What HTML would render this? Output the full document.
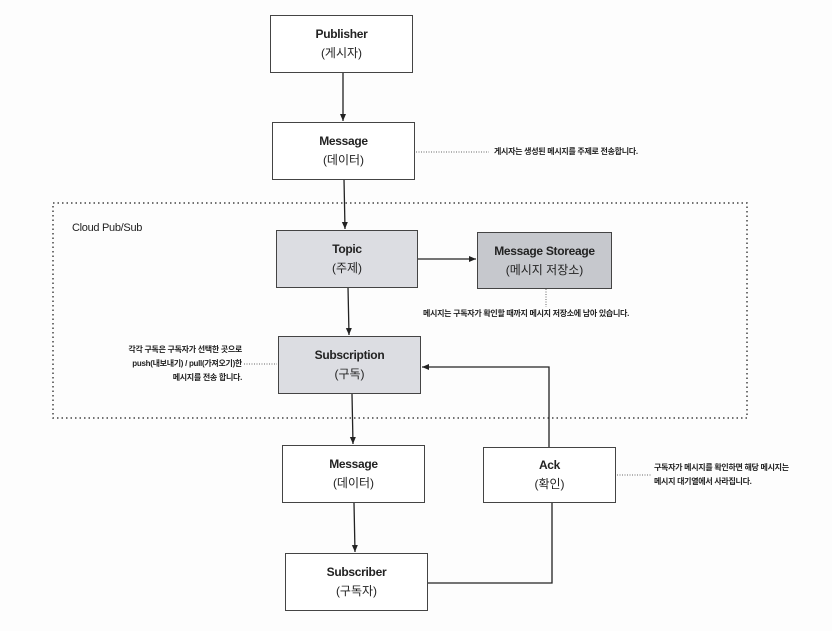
<!DOCTYPE html>
<html><head><meta charset="utf-8"><style>
body{margin:0;width:832px;height:631px;background:#fdfdfd;position:relative;overflow:hidden;font-family:"Liberation Sans","Noto Sans CJK KR",sans-serif;color:#222}
.b{position:absolute;border:1.5px solid #444;box-sizing:border-box;display:flex;flex-direction:column;align-items:center;justify-content:center;font-size:12px;line-height:19px;text-align:center;background:#fff}
.b b{font-weight:bold;letter-spacing:-0.3px}
.g{background:#dcdde2}.d{background:#c6c8cd}
.n{position:absolute;font-size:8px;font-weight:bold;line-height:14px;white-space:nowrap;letter-spacing:-0.3px}
</style></head><body>
<svg width="832" height="631" style="position:absolute;left:0;top:0">
<defs><marker id="a" markerWidth="8" markerHeight="8" refX="7" refY="4" orient="auto" markerUnits="userSpaceOnUse"><path d="M0,1 L7,4 L0,7Z" fill="#222"/></marker></defs>
<rect x="53" y="203" width="694" height="215" fill="none" stroke="#444" stroke-width="1.5" stroke-dasharray="1.5,3"/>
<g stroke="#222" stroke-width="1.3" fill="none">
<line x1="343" y1="72" x2="343" y2="121" marker-end="url(#a)"/>
<line x1="344" y1="179" x2="345" y2="229" marker-end="url(#a)"/>
<line x1="418" y1="259" x2="476" y2="259" marker-end="url(#a)"/>
<line x1="348" y1="287" x2="349" y2="335" marker-end="url(#a)"/>
<line x1="352" y1="394" x2="353" y2="444" marker-end="url(#a)"/>
<line x1="354" y1="503" x2="355" y2="552" marker-end="url(#a)"/>
<polyline points="549,447 549,367 422,367" marker-end="url(#a)"/>
<polyline points="428,583 552,583 552,503"/>
</g>
<g stroke="#666" stroke-width="1" stroke-dasharray="1,1.5">
<line x1="416" y1="152" x2="489" y2="152"/>
<line x1="546" y1="289" x2="546" y2="307"/>
<line x1="244" y1="364" x2="277" y2="364"/>
<line x1="617" y1="475" x2="651" y2="475"/>
</g>
</svg>
<div class="b" style="left:270px;top:15px;width:143px;height:58px"><b>Publisher</b>(게시자)</div>
<div class="b" style="left:272px;top:122px;width:143px;height:58px"><b>Message</b>(데이터)</div>
<div class="n" style="left:72px;top:221px;font-size:11px;font-weight:normal">Cloud Pub/Sub</div>
<div class="b g" style="left:276px;top:230px;width:142px;height:58px"><b>Topic</b>(주제)</div>
<div class="b d" style="left:477px;top:232px;width:135px;height:57px"><b>Message Storeage</b>(메시지 저장소)</div>
<div class="b g" style="left:278px;top:336px;width:143px;height:58px"><b>Subscription</b>(구독)</div>
<div class="b" style="left:282px;top:445px;width:143px;height:58px"><b>Message</b>(데이터)</div>
<div class="b" style="left:483px;top:447px;width:133px;height:56px"><b>Ack</b>(확인)</div>
<div class="b" style="left:285px;top:553px;width:143px;height:58px"><b>Subscriber</b>(구독자)</div>
<div class="n" style="left:494px;top:145px">게시자는 생성된 메시지를 주제로 전송합니다.</div>
<div class="n" style="left:423px;top:307px">메시지는 구독자가 확인할 때까지 메시지 저장소에 남아 있습니다.</div>
<div class="n" style="left:80px;top:343px;width:162px;text-align:right;white-space:normal">각각 구독은 구독자가 선택한 곳으로<br>push(내보내기) / pull(가져오기)한<br>메시지를 전송 합니다.</div>
<div class="n" style="left:654px;top:461px">구독자가 메시지를 확인하면 해당 메시지는<br>메시지 대기열에서 사라집니다.</div>
</body></html>
